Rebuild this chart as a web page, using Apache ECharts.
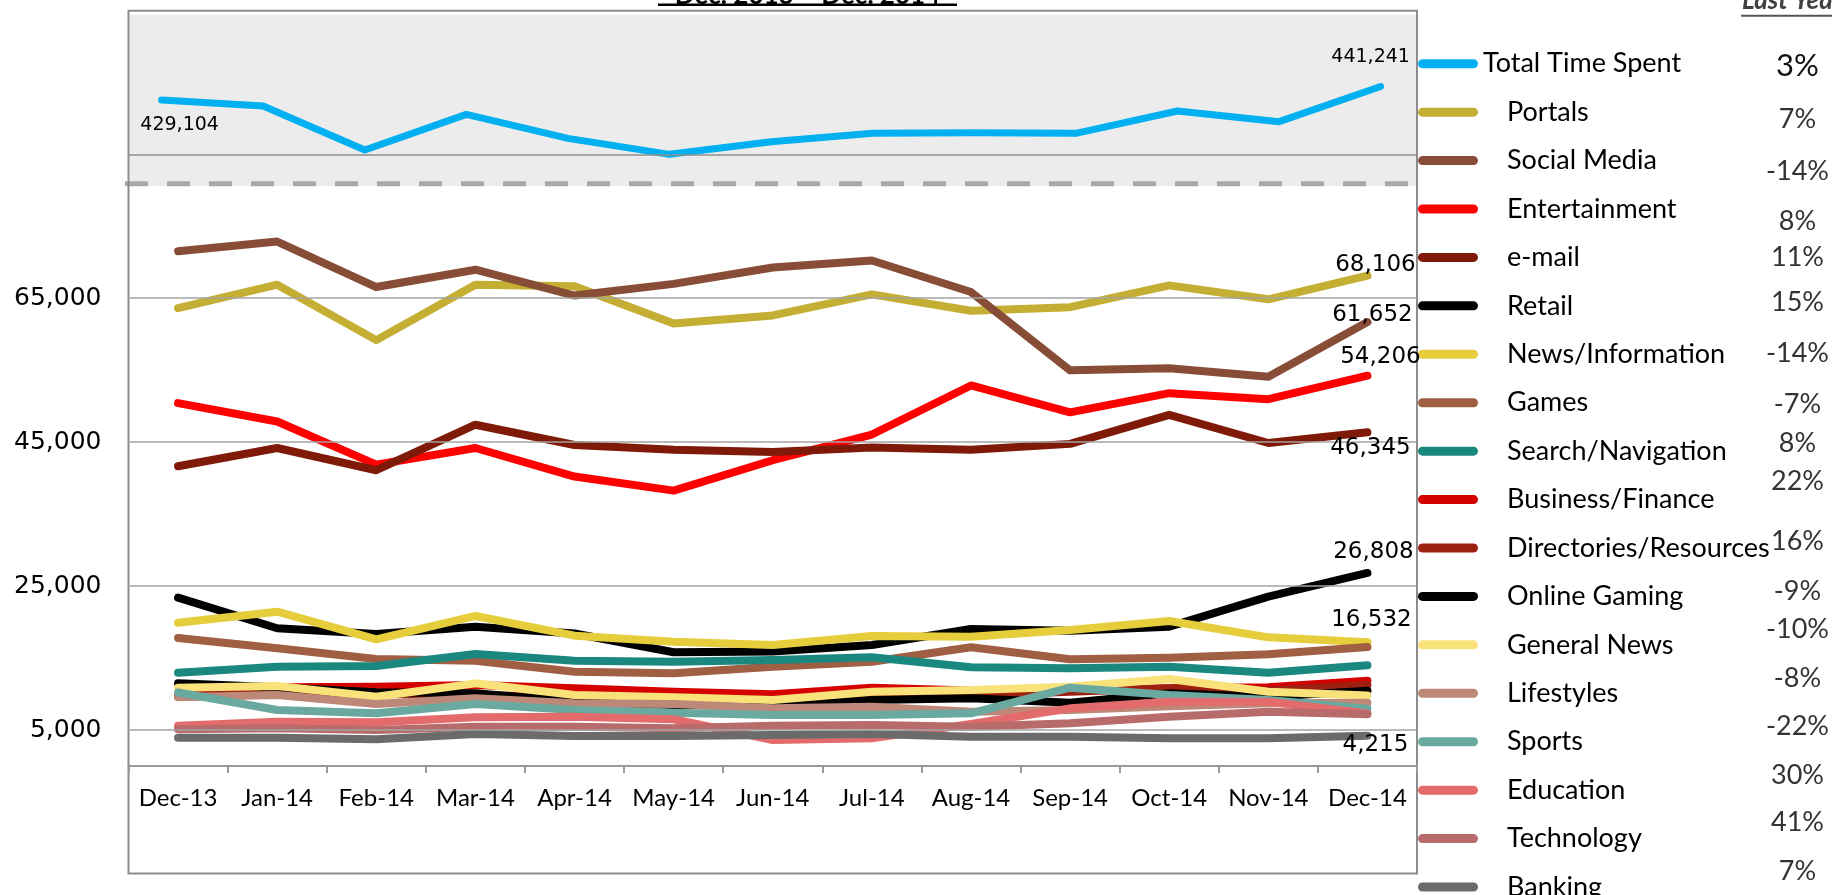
<!DOCTYPE html>
<html>
<head>
<meta charset="utf-8">
<title>Time Spent by Category, Dec 2013 – Dec 2014</title>
<script src="https://cdn.jsdelivr.net/npm/echarts@6/dist/echarts.min.js"></script>
<style>
  html, body { margin: 0; padding: 0; background: #ffffff; }
  #chart { width: 1832px; height: 895px; }
</style>
</head>
<body>
<div id="chart"></div>
<script>
// ---- data -------------------------------------------------------------
const months = ['Dec-13', 'Jan-14', 'Feb-14', 'Mar-14', 'Apr-14', 'May-14', 'Jun-14',
                'Jul-14', 'Aug-14', 'Sep-14', 'Oct-14', 'Nov-14', 'Dec-14'];

const totalTimeSpent = [429104, 423700, 384100, 416200, 394600, 380200, 391600, 399100, 399700, 399100, 419200, 409600, 441241];

const portals        = [63600, 66850, 59150, 66850, 66640, 61450, 62580, 65500, 63230, 63720, 66750, 64820, 68106];
const socialMedia    = [71500, 72840, 66520, 68930, 65340, 66960, 69230, 70200, 65830, 54960, 55240, 54070, 61652];
const entertainment  = [50400, 47850, 41860, 44170, 40200, 38250, 42470, 46040, 52850, 49120, 51780, 50950, 54206];
const email          = [41630, 44170, 41080, 47400, 44580, 43930, 43600, 44250, 43930, 44740, 48770, 44860, 46345];
const retail         = [23380, 19130, 18330, 19350, 18400, 15800, 15900, 16810, 19030, 18790, 19350, 23520, 26808];
const newsInfo       = [19900, 21430, 17600, 20840, 18100, 17270, 16810, 18060, 17960, 18890, 20140, 17870, 17200];
const games          = [17780, 16350, 14860, 14630, 13100, 12880, 13790, 14490, 16490, 14820, 15040, 15520, 16532];
const searchNav      = [12960, 13790, 13890, 15560, 14630, 14490, 14720, 15100, 13710, 13570, 13790, 12960, 14000];
const businessFin    = [9700, 10930, 11020, 11250, 10790, 10320, 9960, 10880, 10500, 10460, 10790, 10930, 11850];
const directories    = [9630, 10200, 10000, 9900, 9500, 9300, 9200, 9700, 9800, 10300, 10800, 10500, 11250];
const onlineGaming   = [11480, 10930, 10240, 10100, 8930, 8470, 8380, 9170, 9400, 8790, 10100, 9630, 10450];
const generalNews    = [10880, 11110, 9630, 11480, 9860, 9540, 9170, 10320, 10560, 11020, 12080, 10320, 9800];
const lifestyles     = [9550, 9860, 8610, 9400, 8710, 8610, 8010, 8240, 7540, 7780, 8300, 8710, 8790];
const sports         = [10200, 7780, 7320, 8610, 7780, 7400, 7080, 7080, 7320, 10880, 9860, 9170, 7950];
const education      = [5600, 6160, 6070, 6760, 6850, 6490, 3610, 3850, 5830, 8010, 8930, 8930, 7280];
const technology     = [5100, 5240, 5000, 5460, 5460, 5240, 5600, 5700, 5460, 5930, 6850, 7540, 7190];
const banking        = [3940, 3930, 3710, 4440, 4170, 4170, 4310, 4440, 4070, 4070, 3850, 3850, 4215];

// change vs. last year, one per legend row
const changeVsLastYear = ['3%', '7%', '-14%', '8%', '11%', '15%', '-14%', '-7%', '8%',
                          '22%', '16%', '-9%', '-10%', '-8%', '-22%', '30%', '41%', '7%'];

const yTickValues = [5000, 25000, 45000, 65000];
const upperGridValue = 380000;
const titleText = 'Dec. 2013 – Dec. 2014';
const changeHeader = 'Last Year';

// ---- series definitions -----------------------------------------------
const lowerSeries = [
  { name: 'Portals',               data: portals,       color: '#C4AE33' },
  { name: 'Social Media',          data: socialMedia,   color: '#884D36' },
  { name: 'Entertainment',         data: entertainment, color: '#FF0000' },
  { name: 'e-mail',                data: email,         color: '#7F1A08' },
  { name: 'Retail',                data: retail,        color: '#000000' },
  { name: 'News/Information',      data: newsInfo,      color: '#E6CD3B' },
  { name: 'Games',                 data: games,         color: '#A05E42' },
  { name: 'Search/Navigation',     data: searchNav,     color: '#1B8880' },
  { name: 'Business/Finance',      data: businessFin,   color: '#D50000' },
  { name: 'Directories/Resources', data: directories,   color: '#9E2010' },
  { name: 'Online Gaming',         data: onlineGaming,  color: '#000000' },
  { name: 'General News',          data: generalNews,   color: '#F9E27A' },
  { name: 'Lifestyles',            data: lifestyles,    color: '#BD8878' },
  { name: 'Sports',                data: sports,        color: '#6AA9A0' },
  { name: 'Education',             data: education,     color: '#E46B6B' },
  { name: 'Technology',            data: technology,    color: '#B86B6B' },
  { name: 'Banking',               data: banking,       color: '#6B6B6B' }
];

// end-of-line value tags: [point index, dx, dy]
const lowerTags = {
  'Portals':       [[12, 8, -11]],
  'Social Media':  [[12, 5, -7]],
  'Entertainment': [[12, 13, -19]],
  'e-mail':        [[12, 3, 16]],
  'Retail':        [[12, 6, -21]],
  'Games':         [[12, 4, -27]],
  'Banking':       [[12, 8, 9]]
};
const totalTags = [[0, 18, 25], [12, -10, -29]];

const fmt = v => String(Math.round(v)).replace(/\B(?=(\d{3})+(?!\d))/g, ',');

function tagPoints(values, tags, fontSize) {
  return {
    symbol: 'circle',
    symbolSize: 1,
    silent: true,
    animation: false,
    itemStyle: { color: 'rgba(0,0,0,0)' },
    label: {
      show: true,
      position: 'inside',
      color: '#000',
      fontFamily: 'DejaVu Sans',
      fontSize: fontSize,
      formatter: p => fmt(p.value)
    },
    data: tags.map(([i, dx, dy]) => ({
      coord: [i, values[i]],
      value: values[i],
      label: { offset: [dx, dy] }
    }))
  };
}

const series = [];

// horizontal reference lines (drawn beneath the data lines)
series.push({
  type: 'line', xAxisIndex: 0, yAxisIndex: 0, z: 1, silent: true,
  data: months.map((m, i) => [i, null]),
  markLine: {
    symbol: ['none', 'none'], silent: true, animation: false,
    label: { show: false },
    lineStyle: { color: '#8F8F8F', width: 1.5, type: 'solid' },
    data: [{ yAxis: upperGridValue }]
  }
});
series.push({
  type: 'line', xAxisIndex: 1, yAxisIndex: 1, z: 1, silent: true,
  data: months.map(() => null),
  markLine: {
    symbol: ['none', 'none'], silent: true, animation: false,
    label: { show: false },
    lineStyle: { color: '#A3A3A3', width: 1.5, type: 'solid' },
    data: yTickValues.map(v => ({ yAxis: v }))
  }
});

// total time spent: month index on a value axis so the points sit on their own spacing
series.push({
  name: 'Total Time Spent',
  type: 'line',
  xAxisIndex: 0, yAxisIndex: 0, z: 3,
  data: totalTimeSpent.map((v, i) => [i, v]),
  color: '#00B0F0',
  showSymbol: false,
  lineStyle: { width: 7, cap: 'round', join: 'round' },
  markPoint: tagPoints(totalTimeSpent, totalTags, 19)
});

lowerSeries.forEach(s => {
  const item = {
    name: s.name,
    type: 'line',
    xAxisIndex: 1, yAxisIndex: 1, z: 3,
    data: s.data,
    color: s.color,
    showSymbol: false,
    lineStyle: { width: 8, cap: 'round', join: 'round' }
  };
  if (lowerTags[s.name]) item.markPoint = tagPoints(s.data, lowerTags[s.name], 23);
  series.push(item);
});

// ---- legend -------------------------------------------------------------
const legendNames = ['Total Time Spent'].concat(lowerSeries.map(s => s.name));
const legendData = legendNames.map((n, i) => ({
  name: n,
  textStyle: { padding: [0, 0, 0, i === 0 ? 0 : 24] }
}));

// ---- decorations ------------------------------------------------------
const changeY = [65.7, 119, 171, 221.7, 257.7, 302, 353, 404, 443, 481.7, 541.7, 591.7, 629, 678, 726.7, 775, 822.7, 871.7];
const changeTexts = changeVsLastYear.map((t, i) => ({
  type: 'text',
  x: 1797.5, y: changeY[i],
  silent: true,
  style: {
    text: t,
    align: 'center', verticalAlign: 'middle',
    fill: i === 0 ? '#111' : '#333',
    font: (i === 0 ? '31px' : '27px') + ' Lato'
  }
}));

const graphic = [
  // shaded band behind the total series
  { type: 'rect', z: -10, silent: true,
    shape: { x: 129.5, y: 14.7, width: 1286.5, height: 171.3 },
    style: { fill: '#ECECEC' } },
  // break marker between the two panels
  { type: 'line', z: -5, silent: true,
    shape: { x1: 125, y1: 183.7, x2: 1416, y2: 183.7 },
    style: { stroke: '#A8A8A8', lineWidth: 5, lineDash: [23, 19] } },
  // plot frame
  { type: 'rect', z: -4, silent: true,
    shape: { x: 128.5, y: 10.7, width: 1288.5, height: 862.8 },
    style: { fill: null, stroke: '#8C8C8C', lineWidth: 2 } },
  // title (runs off the top edge)
  { type: 'text', x: 807.5, y: 8.5, silent: true,
    style: { text: titleText, align: 'center', verticalAlign: 'bottom',
             fill: '#000', font: 'bold 26px Lato' } },
  { type: 'line', silent: true,
    shape: { x1: 658, y1: 4.8, x2: 957, y2: 4.8 },
    style: { stroke: '#000', lineWidth: 2.5 } },
  // column header for the change figures
  { type: 'text', x: 1742, y: 13.5, silent: true,
    style: { text: changeHeader, align: 'left', verticalAlign: 'bottom',
             fill: '#404040', font: 'italic bold 26px Lato' } },
  { type: 'line', silent: true,
    shape: { x1: 1741, y1: 15.8, x2: 1832, y2: 15.8 },
    style: { stroke: '#555', lineWidth: 2 } }
].concat(changeTexts);

// ---- chart ------------------------------------------------------------
const chart = echarts.init(document.getElementById('chart'), null, { renderer: 'canvas' });

chart.setOption({
  animation: false,
  backgroundColor: '#ffffff',
  grid: [
    { left: 128.5, top: 10.1, width: 1288.5, height: 177.8, containLabel: false },
    { left: 128.5, top: 190, width: 1288.5, height: 576, containLabel: false }
  ],
  xAxis: [
    { gridIndex: 0, type: 'value', min: -0.326, max: 12.358, show: false },
    {
      gridIndex: 1, type: 'category', data: months, boundaryGap: true,
      axisLine: { lineStyle: { color: '#9A9A9A', width: 2 } },
      axisTick: { show: true, length: 7, lineStyle: { color: '#9A9A9A', width: 2 } },
      axisLabel: { interval: 0, margin: 20, color: '#000', fontFamily: 'Lato', fontSize: 24 },
      splitLine: { show: false }
    }
  ],
  yAxis: [
    { gridIndex: 0, type: 'value', min: 350000, max: 510000, show: false },
    {
      gridIndex: 1, type: 'value', min: 0, max: 80000, interval: 5000,
      axisLine: { show: false },
      axisTick: { show: false },
      splitLine: { show: false },
      axisLabel: {
        margin: 27,
        color: '#000',
        fontFamily: 'DejaVu Sans',
        fontSize: 25,
        formatter: v => (yTickValues.indexOf(v) >= 0 ? fmt(v) : '')
      }
    }
  ],
  legend: {
    orient: 'vertical',
    left: 1418,
    top: 48.7,
    height: 880,
    padding: 0,
    itemGap: 18.43,
    itemWidth: 60,
    itemHeight: 9,
    selectedMode: false,
    icon: 'path://M4.5,0H55.5A4.5,4.5,0,0,1,55.5,9H4.5A4.5,4.5,0,0,1,4.5,0Z',
    textStyle: { color: '#000', fontFamily: 'Lato', fontSize: 27, lineHeight: 30 },
    data: legendData
  },
  graphic: graphic,
  series: series
});
</script>
</body>
</html>
